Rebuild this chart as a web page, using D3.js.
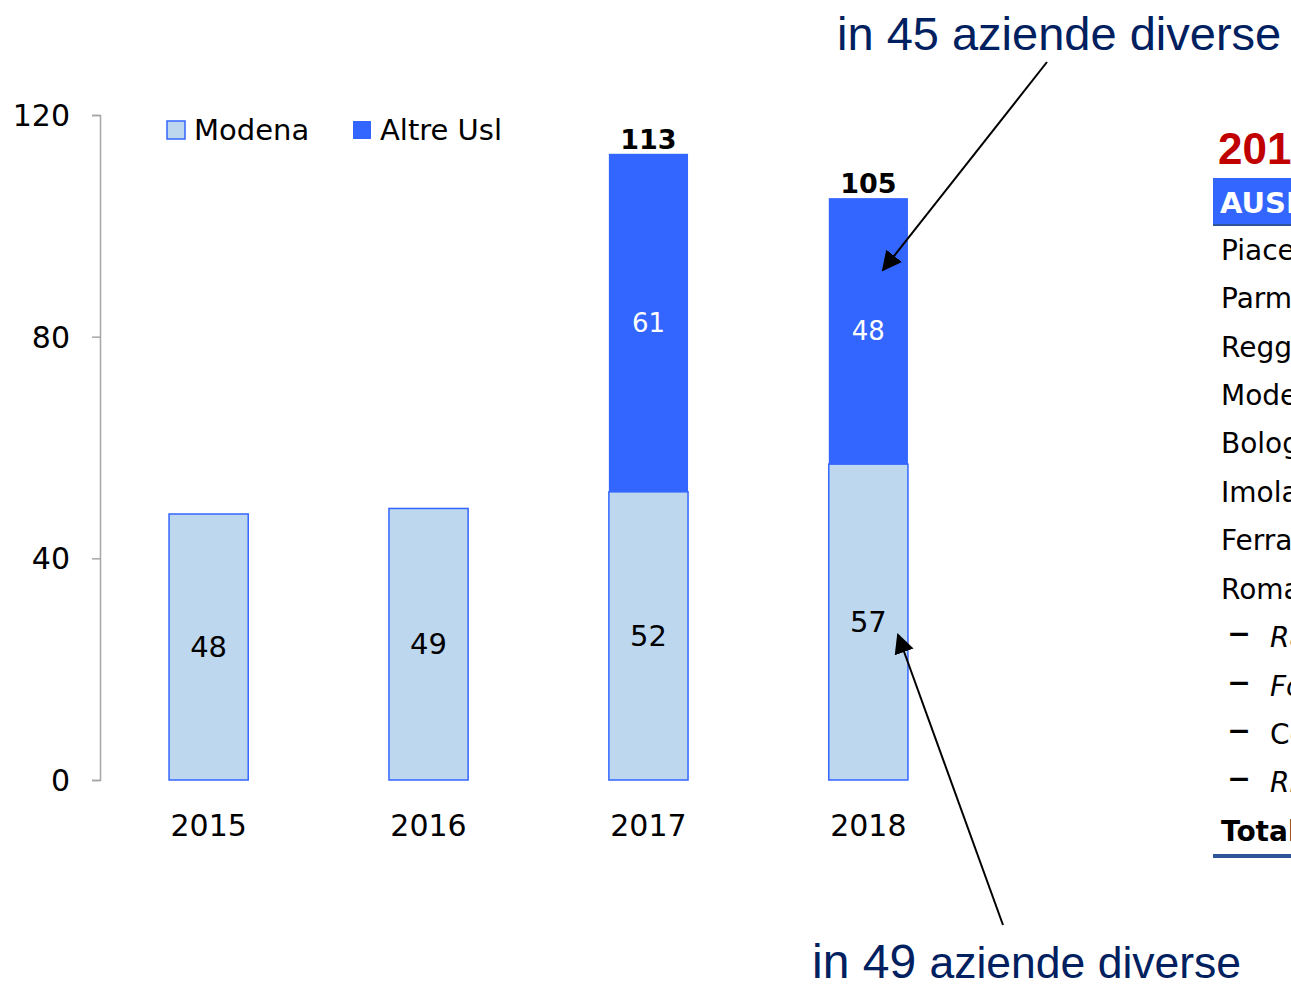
<!DOCTYPE html>
<html><head><meta charset="utf-8">
<script src="https://cdn.jsdelivr.net/npm/d3@7"></script>
<style>body{margin:0;background:#fff;overflow:hidden}</style>
</head><body>
<svg id="c" width="1291" height="984"></svg>
<script>
const years = ["2015","2016","2017","2018"];
const modena = [48,49,52,57];
const altre = [0,0,61,48];
const totals = [null,null,113,105];
const yTicks = [0,40,80,120];
const seriesNames = ["Modena","Altre Usl"];
const tableTitle = "2018";
const tableHeader = "AUSL";
const tableRows = ["Piacenza","Parma","Reggio Emilia","Modena","Bologna","Imola","Ferrara","Romagna","Ravenna","Forlì","Cesena","Rimini","Totale"];
const annotTop = ["in 45 ","aziende diverse"];
const annotBottom = ["in 49 ","aziende diverse"];

const F = "'DejaVu Sans', sans-serif";
const svg = d3.select("#c");
const light = "#BDD7EE", dark = "#3366FF", edge = "#3366FF";

const y = d3.scaleLinear().domain([0,120]).range([780,115]);
const x = d3.scaleBand().domain(years).range([100,977]).paddingInner(0.64).paddingOuter(0.314);

// y axis
const ax = svg.append("g").attr("transform","translate(100,0)")
  .call(d3.axisLeft(y).tickValues(yTicks).tickSize(8).tickPadding(22).tickFormat(d3.format("d")));
ax.select(".domain").attr("stroke","#a6a6a6").attr("stroke-width",1.5);
ax.selectAll(".tick line").attr("stroke","#a6a6a6").attr("stroke-width",1.5);
ax.selectAll("text").attr("font-family",F).attr("font-size",30).attr("fill","#000").attr("dy","0.35em");

// x labels
svg.append("g").selectAll("text").data(years).join("text")
  .attr("x",d=>x(d)+x.bandwidth()/2).attr("y",836)
  .attr("text-anchor","middle").attr("font-family",F).attr("font-size",30).text(d=>d);

const data = years.map((yr,i)=>({yr,m:modena[i],a:altre[i],t:totals[i]}));
// Modena bars
svg.append("g").selectAll("rect").data(data).join("rect")
  .attr("x",d=>x(d.yr)).attr("width",x.bandwidth())
  .attr("y",d=>y(d.m)).attr("height",d=>y(0)-y(d.m))
  .attr("fill",light).attr("stroke",edge).attr("stroke-width",1.5);
// Altre bars
svg.append("g").selectAll("rect").data(data.filter(d=>d.a>0)).join("rect")
  .attr("x",d=>x(d.yr)).attr("width",x.bandwidth())
  .attr("y",d=>y(d.m+d.a)).attr("height",d=>y(d.m)-y(d.m+d.a))
  .attr("fill",dark);

// labels
svg.append("g").selectAll("text").data(data).join("text")
  .attr("x",d=>x(d.yr)+x.bandwidth()/2).attr("y",d=>(y(d.m)+y(0))/2)
  .attr("dy","0.35em").attr("text-anchor","middle").attr("font-family",F).attr("font-size",29)
  .text(d=>d.m);
svg.append("g").selectAll("text").data(data.filter(d=>d.a>0)).join("text")
  .attr("x",d=>x(d.yr)+x.bandwidth()/2).attr("y",d=>(y(d.m)+y(d.m+d.a))/2)
  .attr("dy","0.35em").attr("text-anchor","middle").attr("font-family",F).attr("font-size",26).attr("fill","#fff")
  .text(d=>d.a);
svg.append("g").selectAll("text").data(data.filter(d=>d.t)).join("text")
  .attr("x",d=>x(d.yr)+x.bandwidth()/2).attr("y",d=>y(d.t)-5)
  .attr("text-anchor","middle").attr("font-family",F).attr("font-weight","bold").attr("font-size",27)
  .text(d=>d.t);

// legend
const lg = svg.append("g");
const lx = [167,353];
seriesNames.forEach((n,i)=>{
  lg.append("rect").attr("x",lx[i]).attr("y",121).attr("width",18).attr("height",18)
    .attr("fill",i?dark:light).attr("stroke",edge).attr("stroke-width",i?0:1.5);
  lg.append("text").attr("x",lx[i]+27).attr("y",140).attr("font-family",F).attr("font-size",29).text(n);
});

// annotations
const AF = "'Liberation Sans', Arial, sans-serif";
const navy = "#002060";
const t1 = svg.append("text").attr("x",837).attr("y",50).attr("font-family",AF).attr("font-size",47).attr("fill",navy);
t1.append("tspan").text(annotTop[0]); t1.append("tspan").text(annotTop[1]);
const t2 = svg.append("text").attr("x",812).attr("y",978).attr("font-family",AF).attr("fill",navy);
t2.append("tspan").attr("font-size",48).text(annotBottom[0]); t2.append("tspan").attr("font-size",44.5).text(annotBottom[1]);

const defs = svg.append("defs");
defs.append("marker").attr("id","ah").attr("viewBox","0 0 10 10").attr("refX",9).attr("refY",5)
  .attr("markerWidth",20).attr("markerHeight",20).attr("markerUnits","userSpaceOnUse").attr("orient","auto")
  .append("path").attr("d","M0,0L10,5L0,10z").attr("fill","#000");
svg.append("line").attr("x1",1047).attr("y1",62).attr("x2",883).attr("y2",270)
  .attr("stroke","#000").attr("stroke-width",2).attr("marker-end","url(#ah)");
svg.append("line").attr("x1",1003).attr("y1",925).attr("x2",898).attr("y2",635)
  .attr("stroke","#000").attr("stroke-width",2).attr("marker-end","url(#ah)");

// table
svg.append("text").attr("x",1218).attr("y",164).attr("font-family",AF).attr("font-weight","bold")
  .attr("font-size",44).attr("fill","#C00000").text(tableTitle);
svg.append("rect").attr("x",1213).attr("y",178).attr("width",90).attr("height",47).attr("fill",dark);
svg.append("line").attr("x1",1213).attr("x2",1300).attr("y1",225).attr("y2",225).attr("stroke","#2F5597").attr("stroke-width",2);
svg.append("text").attr("x",1220).attr("y",213).attr("font-family",F).attr("font-weight","bold")
  .attr("font-size",29).attr("fill","#fff").text(tableHeader);
const rowY = d3.scaleLinear().domain([0,12]).range([250,831]);
tableRows.forEach((r,i)=>{
  const sub = i>=8 && i<=11;
  const t = svg.append("text").attr("y",rowY(i)).attr("dy","0.35em").attr("font-family",F).attr("font-size",28);
  if(sub){
    t.attr("x",1228);
    t.append("tspan").attr("font-size",44).text("–");
    t.append("tspan").attr("x",1270).attr("font-style", i===10?"normal":"italic").text(r);
  } else {
    t.attr("x",1221).attr("font-weight", i===12?"bold":"normal").text(r);
  }
});
svg.append("line").attr("x1",1213).attr("x2",1300).attr("y1",856).attr("y2",856).attr("stroke","#2F5597").attr("stroke-width",4);
</script>
</body></html>
